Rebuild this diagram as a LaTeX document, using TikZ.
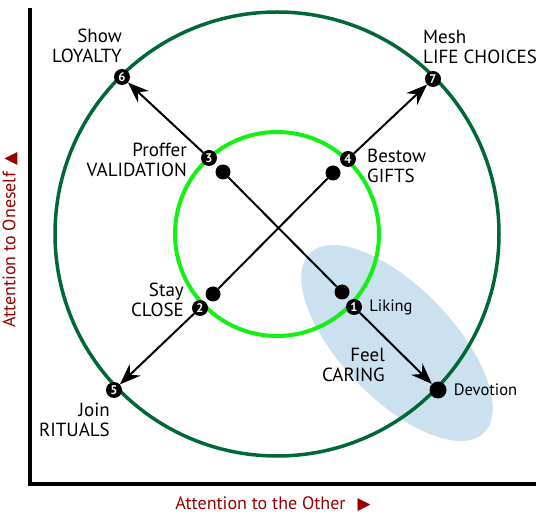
\documentclass[tikz,border=0pt]{standalone}
\usepackage{fontspec}
\setmainfont{PT Sans}
\newfontfamily\symfont{DejaVu Sans}
\usepackage{tikz}
\usetikzlibrary{positioning, arrows.meta}

\definecolor{outergreen}{RGB}{0,104,55}
\definecolor{innergreen}{RGB}{20,240,20}
\definecolor{blobblue}{RGB}{203,225,240}
\definecolor{axisred}{RGB}{150,0,0}

\begin{document}
\begin{tikzpicture}[
    x=1pt, y=-1pt,
    marker/.style={circle, fill=black, inner sep=0pt, minimum size=16pt,
        text=white, font=\fontsize{12.5}{12.5}\selectfont\bfseries},
    dot/.style={circle, fill=black, inner sep=0pt, minimum size=15pt},
    lbl/.style={inner sep=0pt, font=\fontsize{19}{20.5}\selectfont},
    small/.style={inner sep=0pt, font=\fontsize{16.5}{16.5}\selectfont},
    axislbl/.style={inner sep=0pt, text=axisred, font=\fontsize{18}{18}\selectfont},
    link/.style={line width=2pt},
    arrow/.style={-{Stealth[length=21pt, width=16pt, inset=7pt]}, line width=2pt}
]
    \useasboundingbox (0,0) rectangle (541,518);

    % axes
    \draw[line width=3.5pt] (30,8) -- (30,484) -- (536,484);

    % shaded region
    \fill[blobblue, rotate around={-46:(397,343)}] (397,343) ellipse (125 and 56);

    % circles
    \draw[outergreen, line width=3.5pt] (277,234) circle (222);
    \draw[innergreen, line width=4pt] (277,234) circle (102);

    % inner markers
    \node[marker] (m1) at (354,307) {1};
    \node[marker] (m2) at (200,308) {2};
    \node[marker] (m3) at (209,158) {3};
    \node[marker] (m4) at (348,159) {4};

    % outer markers
    \node[marker] (m5) at (114,390) {5};
    \node[marker] (m6) at (122,77) {6};
    \node[marker] (m7) at (433,79) {7};
    \node[dot, minimum size=17pt] (dev) at (438,390) {};

    % plain dots
    \node[dot] (p1) at (342,292) {};
    \node[dot] (p2) at (213,294) {};
    \node[dot] (p3) at (223,172) {};
    \node[dot] (p4) at (333,173) {};

    \draw[link] (p3) -- (p1);
    \draw[link] (p4) -- (p2);

    \draw[arrow] (m3) -- (m6);
    \draw[arrow] (m4) -- (m7);
    \draw[arrow] (m2) -- (m5);
    \draw[arrow] (m1) -- (dev);

    % labels
    \node[lbl, align=right, anchor=east] (show) at (122,46) {Show\\LOYALTY};
    \node[lbl, align=left, anchor=west] (mesh) at (423,47) {Mesh\\LIFE CHOICES};
    \node[lbl, align=right, anchor=east] (proffer) at (187,160) {Proffer\\VALIDATION};
    \node[lbl, align=left, anchor=west] (bestow) at (367,166) {Bestow\\GIFTS};
    \node[lbl, align=right, anchor=east] (stay) at (184,300) {Stay\\CLOSE};
    \node[lbl, align=right, anchor=east] (join) at (110,420) {Join\\RITUALS};
    \node[lbl, align=right, anchor=east] (feel) at (385,365) {Feel\\CARING};

    \node[small, right=7pt of m1] (liking) {Liking};
    \node[small, right=7pt of dev] (devotion) {Devotion};

    % axis titles
    \node[axislbl, rotate=90] (ytitle) at (10,240)
        {Attention to Oneself\hspace{7pt}{\symfont\fontsize{17}{17}\selectfont ▲}};
    \node[axislbl] (xtitle) at (273,504)
        {Attention to the Other\hspace{12pt}{\symfont\fontsize{17}{17}\selectfont ▶}};

\end{tikzpicture}
\end{document}
